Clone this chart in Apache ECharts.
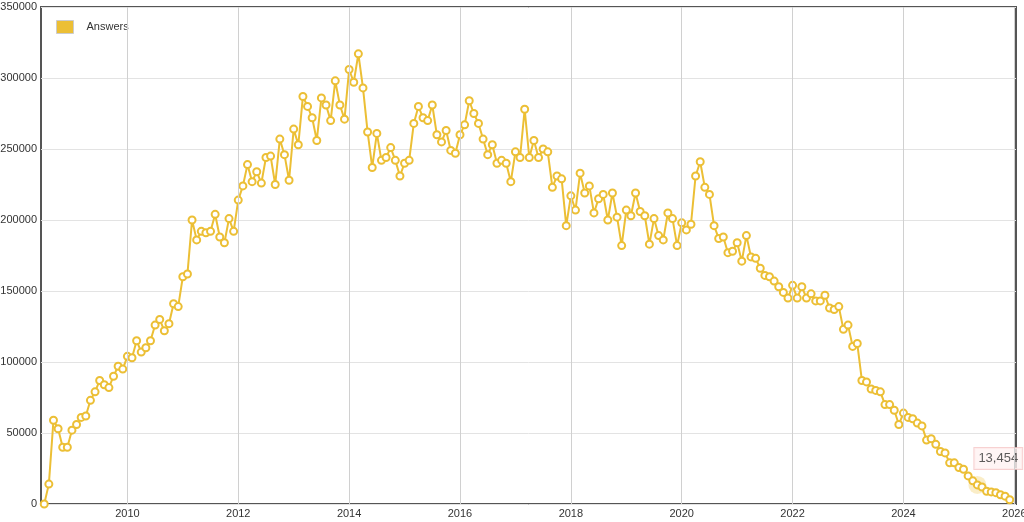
<!DOCTYPE html>
<html><head><meta charset="utf-8">
<script src="https://cdn.jsdelivr.net/npm/echarts@6/dist/echarts.min.js"></script>
<style>html,body{margin:0;padding:0;background:#fff}#c{width:1024px;height:522px}</style>
</head><body><div id="c"></div>
<script>
const startYear = 2008, startMonth = 7;
const answers = [
0,14000,59000,53000,40000,40000,
52000,56000,61000,62000,73000,79000,87000,84000,82000,90000,97000,95000,
104000,103000,115000,107000,110000,115000,126000,130000,122000,127000,141000,139000,
160000,162000,200000,186000,192000,191000,192000,204000,188000,184000,201000,192000,
214000,224000,239000,227000,234000,226000,244000,245000,225000,257000,246000,228000,
264000,253000,287000,280000,272000,256000,286000,281000,270000,298000,281000,271000,
306000,297000,317000,293000,262000,237000,261000,242000,244000,251000,242000,231000,
240000,242000,268000,280000,272000,270000,281000,260000,255000,263000,249000,247000,
260000,267000,284000,275000,268000,257000,246000,253000,240000,242000,240000,227000,
248000,244000,278000,244000,256000,244000,250000,248000,223000,231000,229000,196000,
217000,207000,233000,219000,224000,205000,215000,218000,200000,219000,202000,182000,
207000,203000,219000,206000,203000,183000,201000,189000,186000,205000,201000,182000,
198000,193000,197000,231000,241000,223000,218000,196000,187000,188000,177000,178000,
184000,171000,189000,174000,173000,166000,161000,160000,157000,153000,149000,145000,
154000,145000,153000,145000,148000,143000,143000,147000,138000,137000,139000,123000,
126000,111000,113000,87000,86000,81000,80000,79000,70000,70000,66000,56000,
64000,61000,60000,57000,55000,45000,46000,42000,37000,36000,29000,29000,
25700,24500,19800,16300,13454,12000,9000,8500,8000,6500,5500,3000
];
const highlightIndex = answers.indexOf(13454);
const yearTicks = [2010,2012,2014,2016,2018,2020,2022,2024,2026];
const seriesName = 'Answers';

const pts = answers.map((v,i)=>{
  const m = startMonth - 1 + i;
  return [startYear + m/12, v];
});
const color = '#ecbf35';
const chart = echarts.init(document.getElementById('c'));
chart.setOption({
  animation:false,
  grid:{left:41,right:8,top:7,bottom:18,containLabel:false,outerBoundsMode:'none',show:true,borderColor:'#555',borderWidth:2,backgroundColor:'#fff'},
  legend:{show:true,left:50,top:14,data:[seriesName],icon:'rect',itemWidth:17,itemHeight:13,
    backgroundColor:'#fff',padding:[6,8,6,6],itemGap:10,
    textStyle:{fontSize:11,color:'#333',padding:[0,0,0,8]},
    itemStyle:{color:color,borderColor:'#ccc',borderWidth:1}},
  xAxis:{type:'value',min:2008+5.3/12,max:2026.03,
    axisLine:{show:false},splitLine:{show:false},
    axisTick:{show:false},
    axisLabel:{customValues:yearTicks,formatter:v=>String(Math.round(v)),fontSize:11,color:'#333',margin:4}},
  yAxis:{type:'value',min:0,max:350000,interval:50000,
    axisLine:{show:false},axisTick:{show:false},
    splitLine:{lineStyle:{color:'#e3e3e3',width:1}},
    axisLabel:{fontSize:11,color:'#333',margin:4,formatter:v=>String(v)}},
  series:[
    {name:seriesName,type:'line',data:pts,color:color,
     lineStyle:{color:color,width:2},symbol:'emptyCircle',symbolSize:7,
     itemStyle:{color:color,borderColor:color,borderWidth:2},
     z:3,
     markLine:{silent:true,symbol:'none',label:{show:false},
       lineStyle:{color:'#d0d0d0',type:'solid',width:1},
       data:yearTicks.map(y=>({xAxis:y}))}},
    {type:'scatter',data:[pts[highlightIndex]],symbolSize:18,z:2,
     itemStyle:{color:'rgba(236,191,53,0.35)'},
     label:{show:true,position:[6,-28],formatter:()=>answers[highlightIndex].toLocaleString('en-US'),
       backgroundColor:'#fff3f3',borderColor:'#f5c6c6',borderWidth:1,padding:[4,4],
       fontSize:13,color:'#333'}}
  ]
});
</script></body></html>
